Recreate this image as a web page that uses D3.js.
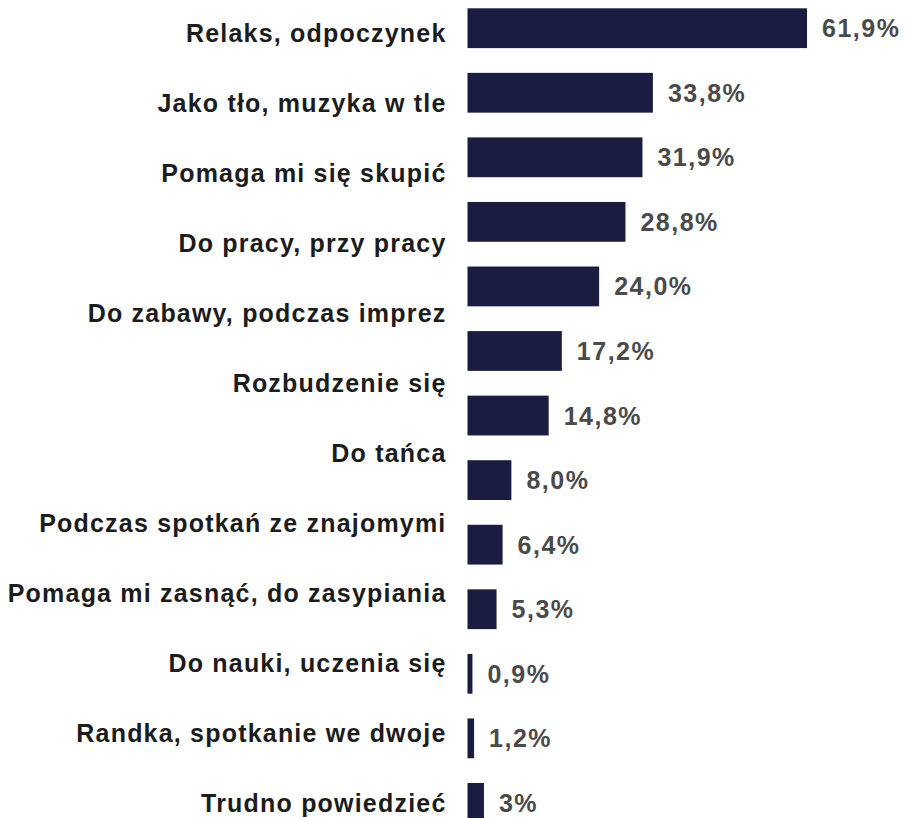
<!DOCTYPE html>
<html>
<head>
<meta charset="utf-8">
<script src="https://cdn.jsdelivr.net/npm/d3@7"></script>
<style>
  html, body { margin: 0; padding: 0; background: #ffffff; }
  svg { display: block; }
</style>
</head>
<body>
<svg id="chart" width="910" height="818"></svg>
<script>
const categories = [
  "Relaks, odpoczynek",
  "Jako tło, muzyka w tle",
  "Pomaga mi się skupić",
  "Do pracy, przy pracy",
  "Do zabawy, podczas imprez",
  "Rozbudzenie się",
  "Do tańca",
  "Podczas spotkań ze znajomymi",
  "Pomaga mi zasnąć, do zasypiania",
  "Do nauki, uczenia się",
  "Randka, spotkanie we dwoje",
  "Trudno powiedzieć"
];
const values = [61.9, 33.8, 31.9, 28.8, 24.0, 17.2, 14.8, 8.0, 6.4, 5.3, 0.9, 1.2, 3];
const valueLabels = ["61,9%", "33,8%", "31,9%", "28,8%", "24,0%", "17,2%", "14,8%", "8,0%", "6,4%", "5,3%", "0,9%", "1,2%", "3%"];

const svg = d3.select("#chart");

const x = d3.scaleLinear().domain([0, 61.9]).range([467.5, 807]);
const yBar = d3.scaleBand()
  .domain(d3.range(values.length))
  .range([8.3, 822.8])
  .paddingInner(0.3835)
  .paddingOuter(0);
const yLabel = d3.scalePoint()
  .domain(categories)
  .range([41.7, 812]);

const font = "'Liberation Sans', Arial, Helvetica, sans-serif";

svg.append("g").selectAll("rect")
  .data(values)
  .join("rect")
  .attr("x", x(0))
  .attr("y", (d, i) => yBar(i))
  .attr("width", d => x(d) - x(0))
  .attr("height", yBar.bandwidth())
  .attr("fill", "#1b1c42");

svg.append("g").selectAll("text")
  .data(categories)
  .join("text")
  .attr("x", 446.5)
  .attr("y", d => yLabel(d))
  .attr("text-anchor", "end")
  .attr("font-family", font)
  .attr("font-weight", "bold")
  .attr("font-size", 25)
  .attr("letter-spacing", 1.2)
  .attr("fill", "#1c1c1c")
  .text(d => d);

svg.append("g").selectAll("text")
  .data(values)
  .join("text")
  .attr("x", d => x(d) + 15)
  .attr("y", (d, i) => yBar(i) + yBar.bandwidth() / 2 + 9)
  .attr("font-family", font)
  .attr("font-weight", "bold")
  .attr("font-size", 25)
  .attr("letter-spacing", 1.5)
  .attr("fill", "#4a4a4a")
  .text((d, i) => valueLabels[i]);
</script>
</body>
</html>
